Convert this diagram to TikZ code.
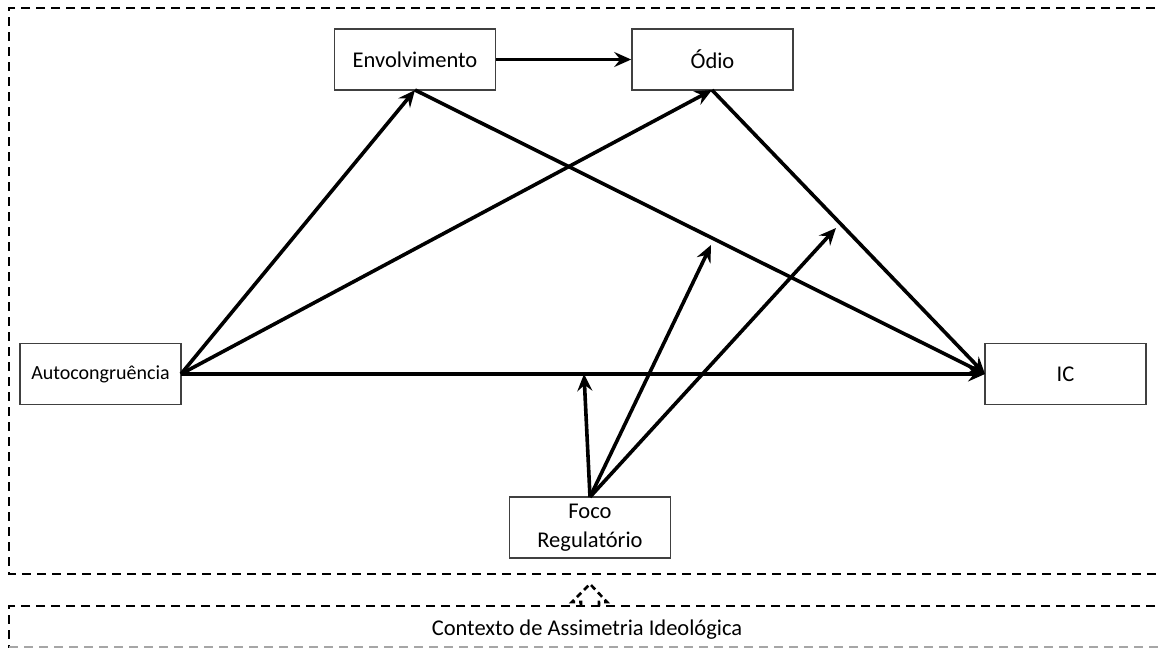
\documentclass[tikz,border=0pt]{standalone}
\usepackage{fontspec}
\setmainfont{Carlito}
\usetikzlibrary{arrows.meta}
\begin{document}
\begin{tikzpicture}[x=1pt,y=-1pt,
  box/.style={draw=black!75,line width=1.6pt,minimum width=161pt,minimum height=61pt,inner sep=0pt,font=\fontsize{22.5}{29}\selectfont,align=center,text=black},
  arr/.style={line width=3.6pt,-{Stealth[length=17pt,width=15pt,inset=6pt]}},
  frame/.style={line width=2.9pt,dash pattern=on 9pt off 6pt,black}]
\useasboundingbox (0,0) rectangle (1160,648);
\fill[white] (0,0) rectangle (1160,648);
% frames
\draw[frame] (1170,8) -- (9,8) -- (9,574) -- (1170,574);
\draw[frame] (1170,606) -- (9,606) -- (9,652);
\draw[frame,black!35] (9,647.5) -- (1170,647.5);
\node[font=\fontsize{22.5}{27}\selectfont,text=black] (ctx) at (587,630) {Contexto de Assimetria Ideológica};
% dashed block arrow head
\draw[line width=2.6pt,dash pattern=on 6pt off 4pt,black] (581,606) -- (581,602) -- (572,602) -- (590,584) -- (607,602) -- (599,602) -- (599,606);
% nodes
\node[box] (env) at (415,59.5) {Envolvimento};
\node[box] (odio) at (712.5,59.5) {Ódio};
\node[box,font=\fontsize{20}{26}\selectfont] (auto) at (100.5,374) {Autocongruência};
\node[box] (ic) at (1065.5,374) {IC};
\node[box] (foco) at (590,527.5) {Foco\\Regulatório};
% anchor points
\coordinate (aR) at (181,374);
\coordinate (eB) at (415,90);
\coordinate (oB) at (712,90);
\coordinate (icL) at (985,374);
\coordinate (fT) at (590,497);
\coordinate (m0) at (584,374);
\coordinate (m1) at (711,245);
\coordinate (m2) at (836,228);
% connectors
\draw[arr] (env.east) -- (odio.west);
\draw[arr] (aR) -- (eB);
\draw[arr] (aR) -- (oB);
\draw[arr] (aR) -- (icL);
\draw[arr] (eB) -- (icL);
\draw[arr] (oB) -- (icL);
\draw[arr] (fT) -- (m0);
\draw[arr] (fT) -- (m1);
\draw[arr] (fT) -- (m2);
\end{tikzpicture}
\end{document}
